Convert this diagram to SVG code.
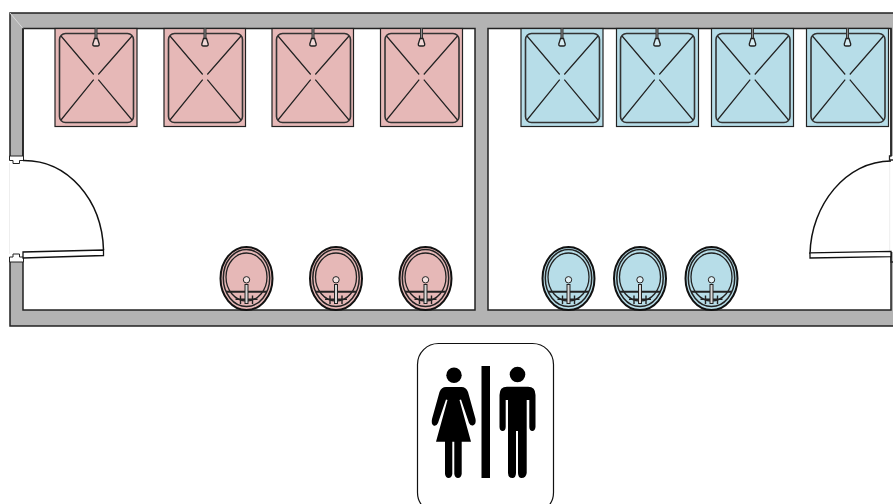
<svg xmlns="http://www.w3.org/2000/svg" xmlns:xlink="http://www.w3.org/1999/xlink" width="893" height="504" viewBox="0 0 893 504">
<style>
.wall{fill:#b3b3b3;stroke:#222;stroke-width:1.5}
.floor{fill:#fff;stroke:#222;stroke-width:1.5}
.ln{fill:none;stroke:#222;stroke-width:1.2}
.arc{fill:none;stroke:#111;stroke-width:1.5}
.hv{fill:none;stroke:#333;stroke-width:1.6}
.pink{fill:#e6b8b7}
.blue{fill:#b7dde8}
.base{stroke:#222;stroke-width:1.2}
.bowl{stroke:#111;stroke-width:2}
.door{fill:#fff;stroke:#111;stroke-width:1.3}
.fig{fill:#000}
</style>
<defs>
<g id="shower">
<rect class="hv" x="4.500" y="5" width="74" height="89" rx="6"/>
<path class="ln" d="M6 7.500L38.700 46M77 7.500L43.300 46M6 91.500L38.700 51.200M77 91.500L43.300 51.200"/>
<path d="M41 0V10" fill="none" stroke="#333" stroke-width="3"/>
<path d="M41 0V10" fill="none" stroke="#8a8a8a" stroke-width="1"/>
<path d="M39.500 10L37.800 15.500Q37.600 17.500 39.500 17.500H42.500Q44.400 17.500 44.200 15.500L42.500 10Z" fill="#fff" fill-opacity=".45" stroke="#222" stroke-width="1.300"/>
</g>
<g id="sink">
<ellipse class="ln" cx="0" cy="0" rx="23.200" ry="28.500" style="stroke-width:1.500"/>
<ellipse class="ln" cx="0" cy="-1" rx="20.500" ry="24" style="stroke-width:1.300"/>
<path class="ln" d="M-20.500 13.700H20.500" style="stroke-width:2"/>
<path class="ln" d="M-6 17.500V26M-11 21.300H-1.500M6 17.500V26M1.500 21.300H11" style="stroke-width:1.400"/>
<rect x="-1.500" y="6.500" width="3" height="19" fill="#d9d9d9" stroke="#222" stroke-width="1"/>
<circle cx="0" cy="1.800" r="3.200" fill="#fff" fill-opacity=".6" stroke="#222" stroke-width="1"/>
</g>
</defs>
<g id="walls">
<path class="wall" d="M895 13H10V326H895V13Z"/>
<rect class="floor" x="23" y="28.500" width="452" height="281.500"/>
<rect class="floor" x="488" y="28.500" width="403" height="281.500"/>
<path d="M9 156.500H24V259H9Z" fill="#fff"/>
<path d="M890 156H895V252H890Z" fill="#fff"/>
<path d="M10 13L23 28.500" stroke="#d8d8d8" stroke-width="1" fill="none"/>
<path d="M9.500 163V254M889.700 161V251" stroke="#eee" stroke-width="1" fill="none"/>
<path d="M23 28.500V156" stroke="#222" stroke-width="1.500" fill="none"/>
<path d="M9.500 156H23.500V160.500H19.500V163.500H13V160.500H9.500Z" fill="#fff" stroke="#222" stroke-width="1"/>
<path d="M9.500 262H23.500V257H19.500V254H13V257H9.500Z" fill="#fff" stroke="#222" stroke-width="1"/>
<path d="M891 28.500V156H889.500V160H895" fill="none" stroke="#222" stroke-width="1.300"/>
<path d="M891 252V262H895" fill="none" stroke="#222" stroke-width="1.300"/>
</g>
<g id="door-left">
<path class="arc" d="M23 160.500C68 160 102 200 103.500 250"/>
<path class="door" d="M23 252V258L103.500 255.500V250Z"/>
</g>
<g id="door-right">
<path class="arc" d="M891 161C846 161 811 205 810 254"/>
<path class="door" d="M810 252.800V258L891 256.700V251.300Z"/>
</g>
<g id="shower-p1"><rect class="pink base" x="55" y="28.500" width="82" height="98"/><use xlink:href="#shower" x="55" y="28.500"/></g>
<g id="shower-p2"><rect class="pink base" x="164" y="28.500" width="81.500" height="98"/><use xlink:href="#shower" x="164" y="28.500"/></g>
<g id="shower-p3"><rect class="pink base" x="272" y="28.500" width="81.500" height="98"/><use xlink:href="#shower" x="272" y="28.500"/></g>
<g id="shower-p4"><rect class="pink base" x="380.500" y="28.500" width="82" height="98"/><use xlink:href="#shower" x="380.500" y="28.500"/></g>
<g id="shower-b1"><rect class="blue base" x="521" y="28.500" width="82" height="98"/><use xlink:href="#shower" x="521" y="28.500"/></g>
<g id="shower-b2"><rect class="blue base" x="616.500" y="28.500" width="82" height="98"/><use xlink:href="#shower" x="616" y="28.500"/></g>
<g id="shower-b3"><rect class="blue base" x="711.500" y="28.500" width="82" height="98"/><use xlink:href="#shower" x="711.500" y="28.500"/></g>
<g id="shower-b4"><rect class="blue base" x="806.500" y="28.500" width="82" height="98"/><use xlink:href="#shower" x="806.500" y="28.500"/></g>
<g id="sink-p1"><ellipse class="pink bowl" cx="246.500" cy="278.500" rx="26" ry="31.500"/><use xlink:href="#sink" x="246.500" y="278"/></g>
<g id="sink-p2"><ellipse class="pink bowl" cx="336" cy="278.500" rx="26" ry="31.500"/><use xlink:href="#sink" x="336" y="278"/></g>
<g id="sink-p3"><ellipse class="pink bowl" cx="425.500" cy="278.500" rx="26" ry="31.500"/><use xlink:href="#sink" x="425.500" y="278"/></g>
<g id="sink-b1"><ellipse class="blue bowl" cx="568.500" cy="278.500" rx="26" ry="31.500"/><use xlink:href="#sink" x="568.500" y="278"/></g>
<g id="sink-b2"><ellipse class="blue bowl" cx="640" cy="278.500" rx="26" ry="31.500"/><use xlink:href="#sink" x="640" y="278"/></g>
<g id="sink-b3"><ellipse class="blue bowl" cx="711.500" cy="278.500" rx="26" ry="31.500"/><use xlink:href="#sink" x="711.500" y="278"/></g>
<g id="sign">
<rect x="417.500" y="343.500" width="136" height="170" rx="21" fill="#fff" stroke="#111" stroke-width="1.200"/>
<rect class="fig" x="481.500" y="366" width="8.500" height="112"/>
<circle class="fig" cx="454" cy="375.300" r="7.700"/>
<circle class="fig" cx="517.500" cy="374.500" r="7.800"/>
<path class="fig" d="M446 387H461.500Q466 387 468 392L475.500 419Q476.500 424 473 425.500Q470.500 426 469 423L461 399.500L459.500 400L471 441.700H461.700V474Q461 478 458 478Q455 478 454.300 474V441.700H452.300V474Q451.600 478 448.600 478Q445.700 478 445 474V441.700H436L447.500 400L446 399.500L438 423Q436.500 426.500 433.500 425.500Q431 424 432 419L439.500 392Q441.500 387 446 387Z"/>
<path class="fig" d="M507 386.700H528Q535.500 386.700 535.500 395V427Q535 431 532.300 431Q529.500 431 529.300 427V400H526.700V473Q526 478 521.500 478Q518.200 478 518 473V431H516V473Q515.800 478 512.500 478Q508 478 508 473V400H505.700V427Q505.500 431 502.700 431Q499.700 431 499.500 427V395Q499.500 386.700 507 386.700Z"/>
</g>
</svg>
